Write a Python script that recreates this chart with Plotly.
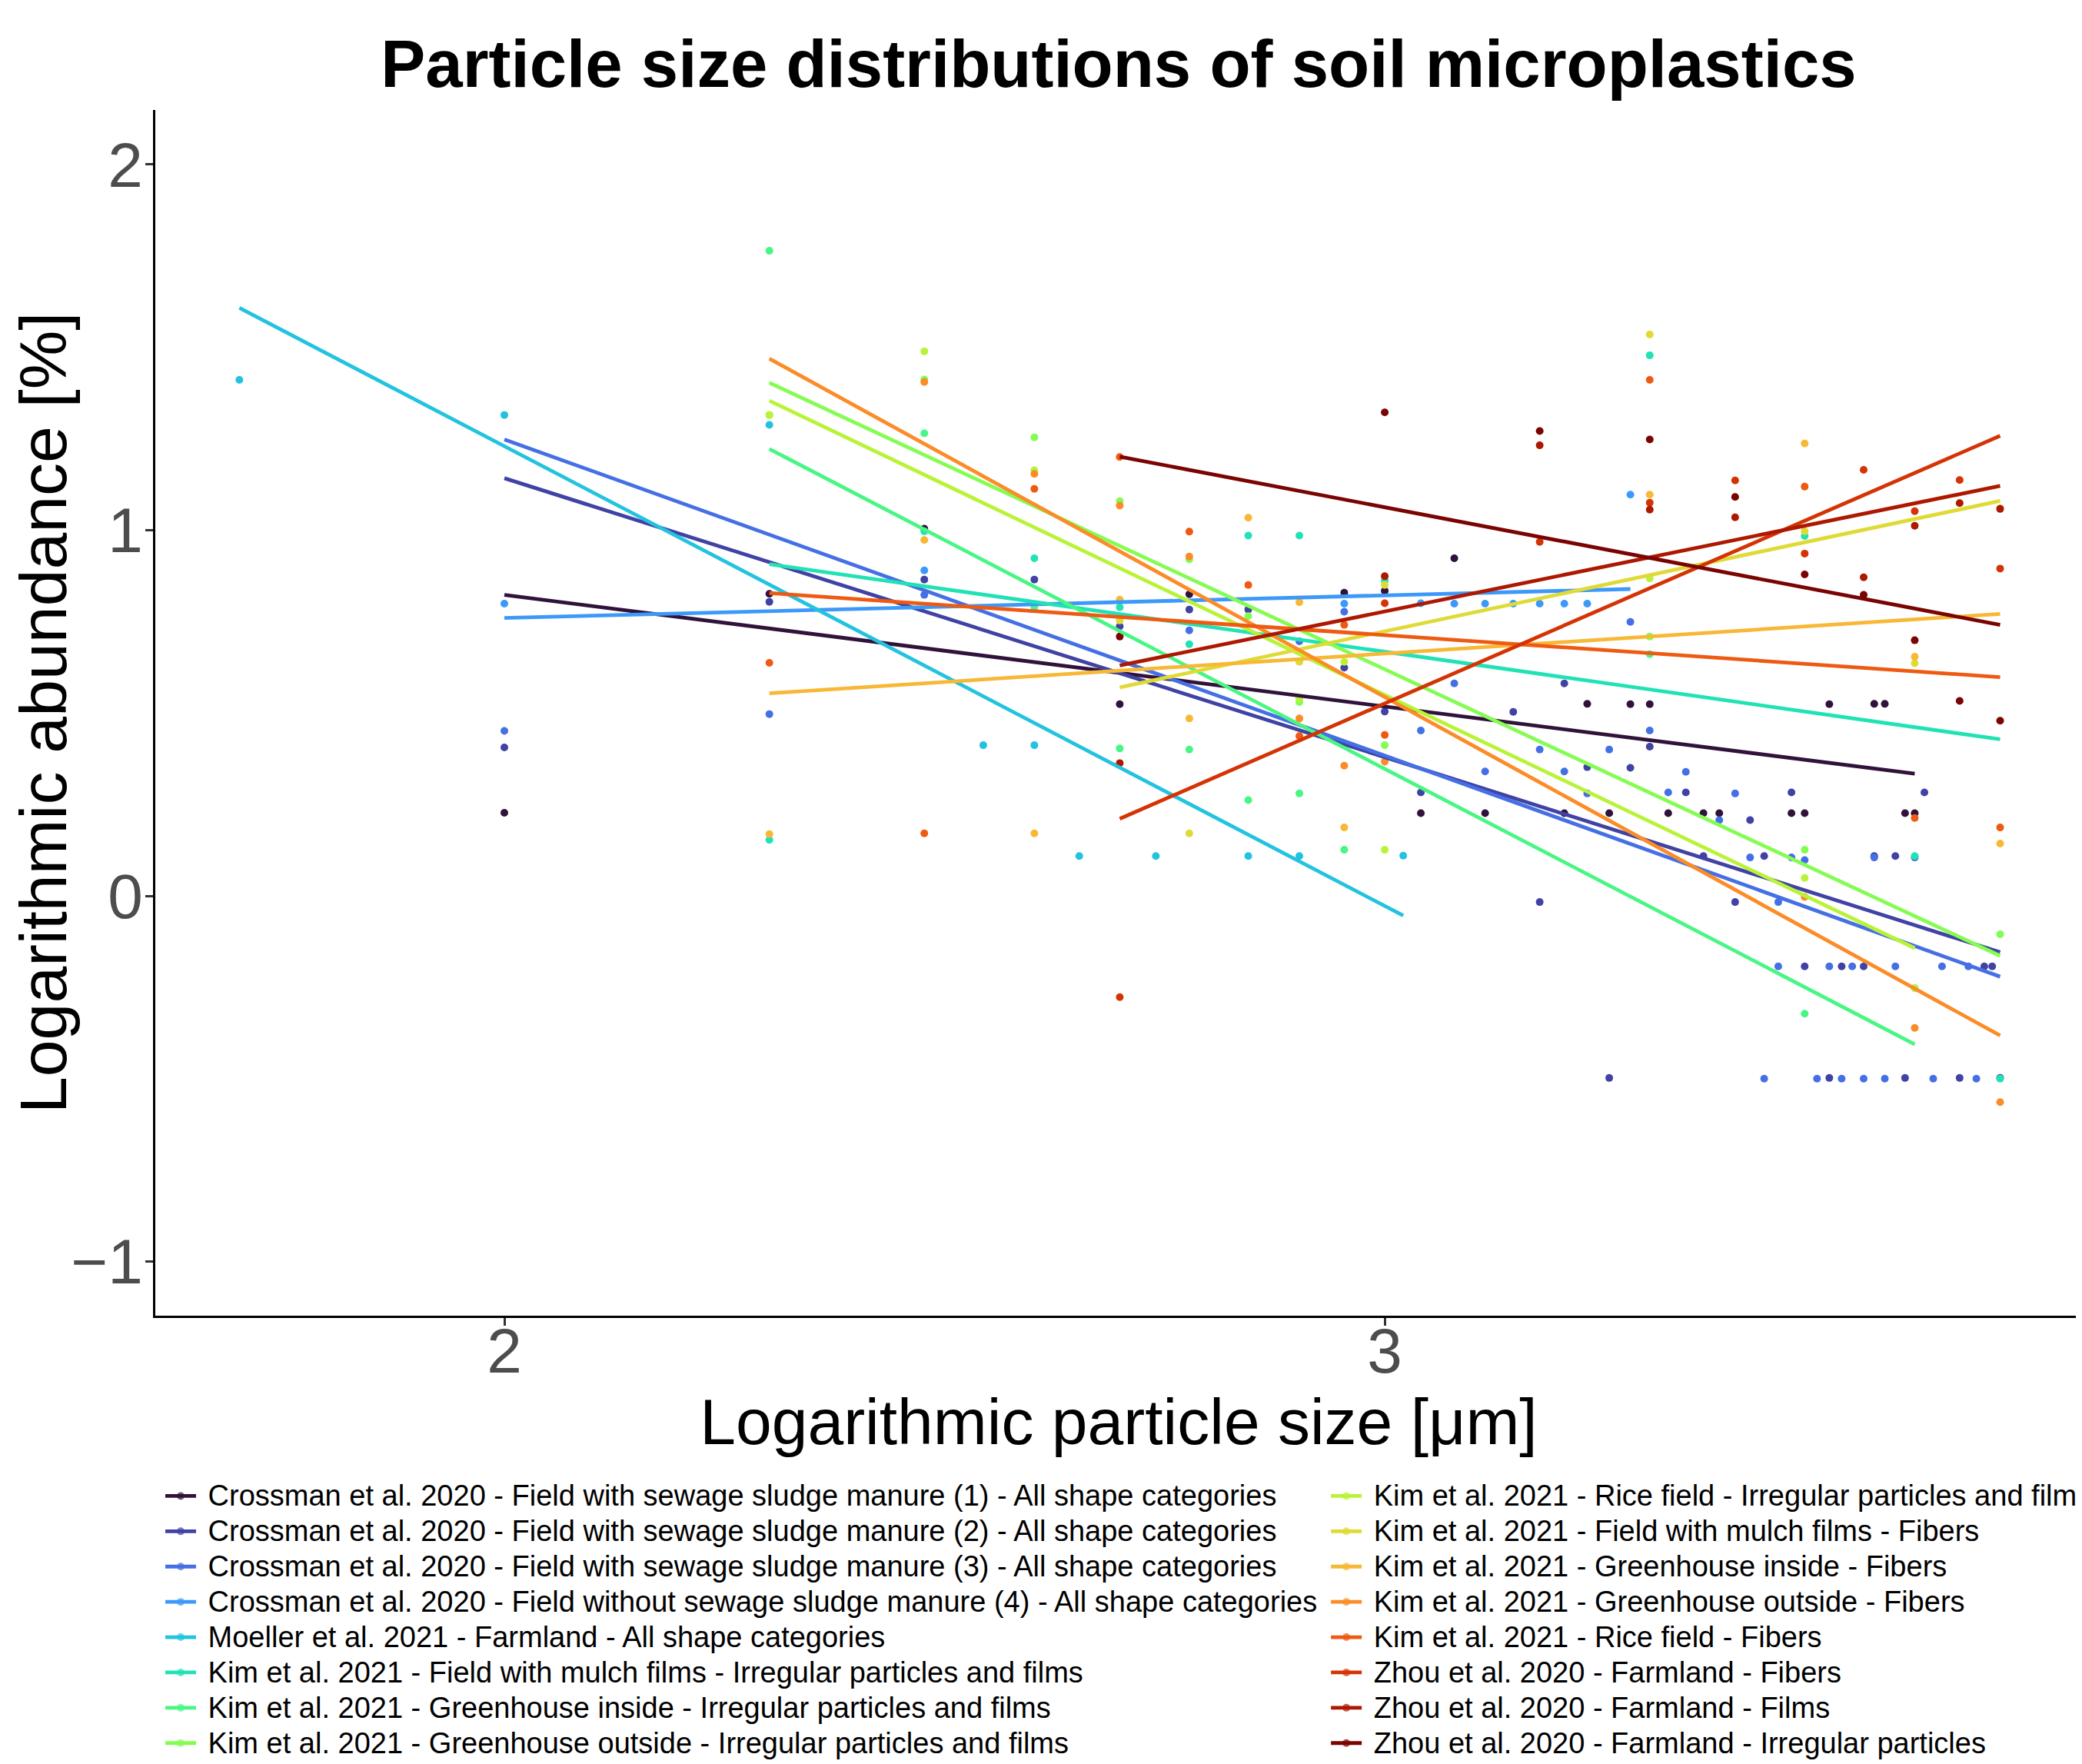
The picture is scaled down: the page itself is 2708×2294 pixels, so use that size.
import plotly.graph_objects as go
from plotly.colors import sample_colorscale, sequential

# ---------------- data (log10 particle size, log10 abundance) ----------------
series_names = [
    "Crossman et al. 2020 - Field with sewage sludge manure (1) - All shape categories",
    "Crossman et al. 2020 - Field with sewage sludge manure (2) - All shape categories",
    "Crossman et al. 2020 - Field with sewage sludge manure (3) - All shape categories",
    "Crossman et al. 2020 - Field without sewage sludge manure (4) - All shape categories",
    "Moeller et al. 2021 - Farmland - All shape categories",
    "Kim et al. 2021 - Field with mulch films - Irregular particles and films",
    "Kim et al. 2021 - Greenhouse inside - Irregular particles and films",
    "Kim et al. 2021 - Greenhouse outside - Irregular particles and films",
    "Kim et al. 2021 - Rice field - Irregular particles and films",
    "Kim et al. 2021 - Field with mulch films - Fibers",
    "Kim et al. 2021 - Greenhouse inside - Fibers",
    "Kim et al. 2021 - Greenhouse outside - Fibers",
    "Kim et al. 2021 - Rice field - Fibers",
    "Zhou et al. 2020 - Farmland - Fibers",
    "Zhou et al. 2020 - Farmland - Films",
    "Zhou et al. 2020 - Farmland - Irregular particles",
]

x_crossman1 = [2.0, 2.301, 2.477, 2.699, 2.778, 2.954, 3.0, 3.041, 3.079, 3.114, 3.204, 3.230, 3.255,
               3.279, 3.301, 3.322, 3.362, 3.380, 3.462, 3.477, 3.505, 3.556, 3.568, 3.591, 3.602]
y_crossman1 = [0.227, 0.826, 1.004, 0.524, 0.825, 0.829, 0.834, 0.226, 0.923, 0.226, 0.226, 0.525, 0.226,
               0.524, 0.524, 0.226, 0.226, 0.226, 0.226, 0.226, 0.524, 0.525, 0.525, 0.226, 0.226]

x_crossman2 = [2.0, 2.301, 2.477, 2.602, 2.699, 2.778, 2.845, 2.954, 3.0, 3.041, 3.146, 3.176, 3.204, 3.230,
               3.255, 3.279, 3.301, 3.342, 3.362, 3.398, 3.415, 3.431, 3.462, 3.477, 3.505, 3.519, 3.544,
               3.556, 3.580, 3.591, 3.613, 3.653, 3.681, 3.690, 3.699]
y_crossman2 = [0.406, 0.804, 0.865, 0.865, 0.737, 0.783, 0.783, 0.624, 0.504, 0.283, 0.503, -0.017, 0.581, 0.352,
               -0.498, 0.350, 0.408, 0.283, 0.109, -0.017, 0.207, 0.109, 0.283, -0.193, -0.498, -0.193, -0.193,
               0.109, 0.109, -0.498, 0.283, -0.498, -0.193, -0.193, -0.498]

x_crossman3 = [2.0, 2.301, 2.477, 2.778, 2.903, 2.954, 3.041, 3.079, 3.114, 3.176, 3.204, 3.230, 3.255, 3.279,
               3.301, 3.322, 3.342, 3.380, 3.398, 3.415, 3.431, 3.447, 3.447, 3.462, 3.477, 3.491, 3.505,
               3.519, 3.531, 3.544, 3.556, 3.568, 3.580, 3.602, 3.623, 3.633, 3.663, 3.672]
y_crossman3 = [0.451, 0.497, 0.823, 0.726, 0.696, 0.777, 0.452, 0.581, 0.340, 0.400, 0.340, 0.280, 0.400, 0.749,
               0.452, 0.283, 0.339, 0.207, 0.280, 0.105, -0.500, -0.193, -0.017, 0.105, 0.098, -0.500, -0.193,
               -0.500, -0.193, -0.500, 0.105, -0.500, -0.193, 0.105, -0.500, -0.193, -0.193, -0.500]

x_crossman4 = [2.0, 2.477, 2.954, 3.041, 3.079, 3.114, 3.146, 3.176, 3.204, 3.230, 3.279]
y_crossman4 = [0.799, 0.890, 0.799, 0.800, 0.799, 0.799, 0.799, 0.799, 0.799, 0.799, 1.097]

x_moeller = [1.699, 2.0, 2.301, 2.544, 2.602, 2.653, 2.740, 2.845, 2.903, 3.021]
y_moeller = [1.411, 1.315, 1.288, 0.412, 0.412, 0.109, 0.109, 0.109, 0.109, 0.110]

x_kim_mulch_irr = [2.301, 2.477, 2.602, 2.699, 2.778, 2.845, 2.903, 3.0, 3.301, 3.477, 3.602, 3.699]
y_kim_mulch_irr = [0.153, 0.997, 0.923, 0.789, 0.688, 0.985, 0.985, 0.862, 1.478, 0.984, 0.109, -0.500]

x_kim_ghin_irr = [2.301, 2.477, 2.602, 2.699, 2.778, 2.845, 2.903, 2.954, 3.301, 3.477, 3.602]
y_kim_ghin_irr = [1.764, 1.265, 0.789, 0.403, 0.400, 0.262, 0.280, 0.126, 0.661, -0.322, -0.252]

x_kim_ghout_irr = [2.301, 2.477, 2.602, 2.699, 2.778, 2.845, 2.903, 3.0, 3.301, 3.477, 3.699]
y_kim_ghout_irr = [1.315, 1.412, 1.254, 1.079, 0.920, 0.765, 0.530, 0.412, 0.709, 0.126, -0.105]

x_kim_rice_irr = [2.301, 2.477, 2.602, 2.903, 2.954, 3.0, 3.301, 3.477, 3.602]
y_kim_rice_irr = [1.315, 1.489, 1.164, 0.540, 0.640, 0.126, 0.868, 0.049, -0.252]

x_kim_mulch_fib = [2.699, 2.778, 2.903, 3.0, 3.301, 3.477, 3.602, 3.699]
y_kim_mulch_fib = [0.753, 0.171, 0.640, 0.850, 1.535, 0.997, 0.636, 1.060]

x_kim_ghin_fib = [2.301, 2.477, 2.602, 2.699, 2.778, 2.845, 2.903, 2.954, 3.301, 3.477, 3.602, 3.699]
y_kim_ghin_fib = [0.169, 0.973, 0.171, 0.810, 0.485, 1.034, 0.803, 0.187, 1.097, 1.237, 0.654, 0.143]

x_kim_ghout_fib = [2.477, 2.602, 2.699, 2.778, 2.903, 2.954, 3.0, 3.477, 3.602, 3.699]
y_kim_ghout_fib = [1.405, 1.154, 1.067, 0.928, 0.485, 0.356, 0.367, -0.003, -0.361, -0.564]

x_kim_rice_fib = [2.301, 2.477, 2.602, 2.699, 2.778, 2.845, 2.903, 2.954, 3.0, 3.301, 3.477, 3.602, 3.699]
y_kim_rice_fib = [0.637, 0.171, 1.113, 1.200, 0.996, 0.850, 0.437, 0.741, 0.440, 1.411, 1.119, 0.213, 0.187]

x_zhou_fib = [2.699, 3.0, 3.176, 3.301, 3.398, 3.477, 3.544, 3.602, 3.653, 3.699]
y_zhou_fib = [-0.277, 0.800, 0.968, 1.075, 1.136, 0.936, 1.165, 1.052, 1.137, 0.895]

x_zhou_film = [2.699, 3.0, 3.176, 3.301, 3.398, 3.544, 3.602, 3.653, 3.699]
y_zhou_film = [0.363, 0.874, 1.232, 1.056, 1.035, 0.871, 1.012, 1.074, 1.058]

x_zhou_irr = [2.699, 3.0, 3.176, 3.301, 3.398, 3.477, 3.544, 3.602, 3.653, 3.699]
y_zhou_irr = [0.709, 1.322, 1.271, 1.248, 1.091, 0.879, 0.823, 0.699, 0.533, 0.479]

# linear-fit lines (start / end of each fitted line)
fit_x0 = [2.0, 2.0, 2.0, 2.0, 1.699, 2.301, 2.301, 2.301, 2.301, 2.699, 2.301, 2.301, 2.301, 2.699, 2.699, 2.699]
fit_y0 = [0.823, 1.142, 1.248, 0.760, 1.608, 0.907, 1.222, 1.403, 1.354, 0.570, 0.554, 1.469, 0.828, 0.211, 0.630, 1.201]
fit_x1 = [3.602, 3.699, 3.699, 3.279, 3.021, 3.699, 3.602, 3.699, 3.602, 3.699, 3.699, 3.699, 3.699, 3.699, 3.699, 3.699]
fit_y1 = [0.334, -0.154, -0.221, 0.839, -0.054, 0.428, -0.406, -0.164, -0.143, 1.080, 0.771, -0.382, 0.598, 1.258, 1.121, 0.741]

x_tick_vals = [2, 3]
y_tick_vals = [-1, 0, 1, 2]

all_x = [x_crossman1, x_crossman2, x_crossman3, x_crossman4, x_moeller, x_kim_mulch_irr, x_kim_ghin_irr,
         x_kim_ghout_irr, x_kim_rice_irr, x_kim_mulch_fib, x_kim_ghin_fib, x_kim_ghout_fib, x_kim_rice_fib,
         x_zhou_fib, x_zhou_film, x_zhou_irr]
all_y = [y_crossman1, y_crossman2, y_crossman3, y_crossman4, y_moeller, y_kim_mulch_irr, y_kim_ghin_irr,
         y_kim_ghout_irr, y_kim_rice_irr, y_kim_mulch_fib, y_kim_ghin_fib, y_kim_ghout_fib, y_kim_rice_fib,
         y_zhou_fib, y_zhou_film, y_zhou_irr]

# ---------------- styling ----------------
n = len(series_names)
colors = sample_colorscale(sequential.Turbo, [i / (n - 1) for i in range(n)])
FONT = "Liberation Sans, Arial, sans-serif"
PT_SIZE = 10
LINE_W = 4.8

# page body has an 8px default margin; the figure is sized to fit the window exactly
W, H = 2700, 2286

fig = go.Figure()

# points first
for i in range(n):
    fig.add_trace(go.Scatter(
        x=all_x[i], y=all_y[i], mode="markers",
        marker=dict(color=colors[i], size=PT_SIZE, line=dict(width=0)),
        showlegend=False, legendgroup=f"g{i}", hoverinfo="x+y+name", name=series_names[i],
    ))

# fitted lines (legend entries show line + dot)
for i in range(n):
    fig.add_trace(go.Scatter(
        x=[fit_x0[i], fit_x1[i]], y=[fit_y0[i], fit_y1[i]], mode="lines+markers",
        line=dict(color=colors[i], width=LINE_W),
        marker=dict(size=[0, 2 * PT_SIZE], color=[colors[i], "rgba(0,0,0,0)"], line=dict(width=0)),
        name=f'<span style="font-size:38px">\u00a0{series_names[i]}</span>',
        legendgroup=f"g{i}", showlegend=True,
        legend="legend" if i < 8 else "legend2",
        hoverinfo="skip",
    ))

legend_common = dict(
    font=dict(family=FONT, size=33, color="black"),
    bgcolor="rgba(0,0,0,0)", borderwidth=0, orientation="v",
    xanchor="left", yanchor="top", itemwidth=40, tracegroupgap=0,
)

fig.update_layout(
    width=W, height=H,
    margin=dict(l=194, r=0, t=135, b=583, autoexpand=False),
    paper_bgcolor="white", plot_bgcolor="white",
    font=dict(family=FONT, color="black"),
    title=dict(
        text="<b>Particle size distributions of soil microplastics</b>",
        font=dict(family=FONT, size=87, color="black"),
        x=0.5, xref="paper", xanchor="center",
        y=1 - 75 / H, yref="container", yanchor="middle",
    ),
    xaxis=dict(
        range=[1.6035, 3.792], tickmode="array", tickvals=x_tick_vals,
        ticks="outside", ticklen=10, tickwidth=2.5, tickcolor="#333333",
        showline=True, linecolor="black", linewidth=2.5, mirror=False,
        showgrid=False, zeroline=False, ticklabelstandoff=-37,
        tickfont=dict(family=FONT, size=82, color="#4D4D4D"),
        title=dict(text="Logarithmic particle size [μm]", font=dict(family=FONT, size=84, color="black"),
                   standoff=8),
    ),
    yaxis=dict(
        range=[-1.148, 2.149], tickmode="array", tickvals=y_tick_vals,
        ticks="outside", ticklen=10, tickwidth=2.5, tickcolor="#333333",
        showline=True, linecolor="black", linewidth=2.5, mirror=False,
        showgrid=False, zeroline=False, ticklabelstandoff=-13,
        tickfont=dict(family=FONT, size=82, color="#4D4D4D"),
        title=dict(text="Logarithmic abundance [%]", font=dict(family=FONT, size=86, color="black"),
                   standoff=12),
    ),
    legend=dict(x=0.0032, y=-0.1317, **legend_common),
    legend2=dict(x=0.6082, y=-0.1317, **legend_common),
)

fig.write_html("out.html")
